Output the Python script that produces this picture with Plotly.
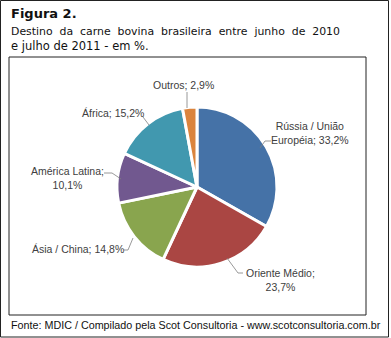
import plotly.graph_objects as go

W, H = 391, 338

categories = ["Rússia / União Européia", "Oriente Médio", "Ásia / China",
              "América Latina", "África", "Outros"]
values = [33.2, 23.7, 14.8, 10.1, 15.2, 2.9]
label_texts = ["Rússia / União<br>Européia; 33,2%", "Oriente Médio;<br>23,7%",
               "Ásia / China; 14,8%", "América Latina;<br>10,1%",
               "África; 15,2%", "Outros; 2,9%"]
colors = ["#4572A7", "#AA4643", "#89A54E", "#71588F", "#4198AF", "#DB843D"]


def px(x):
    return x / W


def py(y):
    return 1 - y / H


cx, cy, r = 197, 187, 80

fig = go.Figure(go.Pie(
    labels=categories, values=values, sort=False, direction="clockwise",
    rotation=0, textinfo="none", hoverinfo="label+value",
    marker=dict(colors=colors, line=dict(color="white", width=3)),
    domain=dict(x=[px(cx - r), px(cx + r)], y=[py(cy + r), py(cy - r)]),
    showlegend=False,
))

label_pos = [(310, 133), (280, 280), (78, 249), (67, 178), (113, 113), (183, 85)]
label_font = dict(family="Liberation Sans", size=10.5, color="#404040")
annotations = []
for t, (x, y) in zip(label_texts, label_pos):
    annotations.append(dict(text=t, x=px(x), y=py(y), xref="paper", yref="paper",
                            showarrow=False, font=label_font, align="center",
                            xanchor="center", yanchor="middle"))

tfont = "DejaVu Sans"
annotations += [
    dict(text="<b>Figura 2.</b>", x=px(9), y=py(14), xref="paper", yref="paper",
         showarrow=False, xanchor="left", yanchor="middle",
         font=dict(family=tfont, size=13, color="#111111")),
    dict(text="Destino  da  carne  bovina  brasileira  entre  junho  de  2010",
         x=px(9), y=py(31), xref="paper", yref="paper",
         showarrow=False, xanchor="left", yanchor="middle",
         font=dict(family=tfont, size=10.9, color="#111111")),
    dict(text="e julho de 2011 - em %.", x=px(9), y=py(46), xref="paper", yref="paper",
         showarrow=False, xanchor="left", yanchor="middle",
         font=dict(family=tfont, size=11.5, color="#111111")),
    dict(text="Fonte: MDIC / Compilado pela Scot Consultoria - www.scotconsultoria.com.br",
         x=px(9), y=py(325), xref="paper", yref="paper",
         showarrow=False, xanchor="left", yanchor="middle",
         font=dict(family="Liberation Sans", size=10.75, color="#111111")),
]

leaders = [
    [(271, 141), (265, 141), (260, 148)],
    [(243, 273), (238, 273), (227, 258)],
    [(124, 250), (128, 250), (133, 238)],
    [(104, 173), (112, 173), (121, 179)],
    [(143, 117), (149, 125)],
    [(187, 92), (187, 108)],
]
shapes = []
for pts in leaders:
    path = "M " + " L ".join(f"{px(x)} {py(y)}" for x, y in pts)
    shapes.append(dict(type="path", path=path, xref="paper", yref="paper",
                       line=dict(color="#7f7f7f", width=0.8)))

shapes.append(dict(type="rect", x0=px(9), x1=px(366), y0=py(57), y1=py(315),
                   xref="paper", yref="paper", line=dict(color="#222222", width=1)))
shapes.append(dict(type="rect", x0=px(0.5), x1=px(388.5), y0=py(0.5), y1=py(337),
                   xref="paper", yref="paper", line=dict(color="#222222", width=1)))

fig.update_layout(width=W, height=H, margin=dict(l=0, r=0, t=0, b=0),
                  paper_bgcolor="white", plot_bgcolor="white",
                  annotations=annotations, shapes=shapes)

fig.write_html("out.html")
